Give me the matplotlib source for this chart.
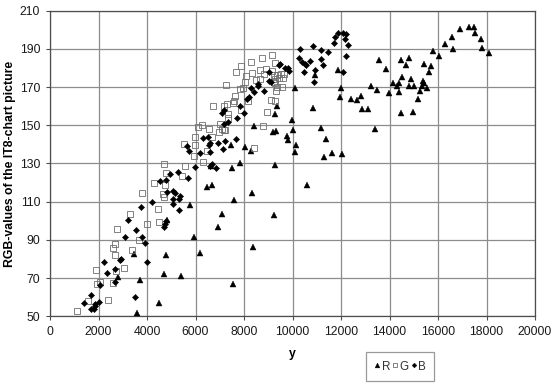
import matplotlib
matplotlib.use('Agg')
import matplotlib.pyplot as plt

plt.rcParams['font.family'] = ['Liberation Sans', 'DejaVu Sans']

# Values
r_x = [3589, 4483, 2819, 3726, 4716, 5418, 3465, 4771, 6201, 5940, 5761, 4840, 6468, 6701, 6930,
       7499, 7816, 6633, 9286, 7471, 8021, 8269, 8393, 9176, 9314, 9754, 9795, 10153, 10084, 9974,
       10029, 9259, 9341, 10084, 10840, 10909, 11170, 11376, 11294, 11638, 12023, 10593, 11885, 12009, 11940,
       13395, 12859, 13093, 12405, 12653, 12845, 13244, 13505, 13560, 13863, 13959, 14124, 14303, 14399, 14399,
       14509, 14481, 14784, 14701, 14481, 14949, 14866, 14798, 15018, 15183, 15251, 15320, 15375, 15416, 15554,
       15416, 15691, 15609, 15788, 16021, 16283, 16613, 16558, 16915, 17259, 17465, 17520, 17768, 17823, 18084,
       8344, 7601, 7093, 9224, 8371, 7560]
r_y = [51.7, 56.8, 70.4, 68.8, 72.1, 71.1, 82.4, 81.9, 83.3, 91.3, 108.2, 100.5, 117.8, 118.9, 96.7,
       127.6, 130, 128.6, 129.2, 139.8, 138.6, 136.7, 149.4, 146.6, 146.9, 144.5, 142.2, 139.8, 136.1, 152.9,
       147.6, 155.7, 160.2, 169.6, 159.1, 176.2, 148.5, 142.6, 133.5, 135.4, 135.1, 118.7, 178.8, 169.4, 164.9,
       148.2, 158.5, 158.5, 163.7, 163.2, 165.1, 170.7, 168.6, 184.1, 179.4, 167, 171.9, 170.7, 172, 167.5,
       175.4, 184.4, 185.3, 181.6, 156.2, 156.9, 174, 170.8, 170.8, 163.7, 168, 170.8, 173.4, 172, 169.4,
       182, 180.9, 178, 188.8, 186.3, 192.3, 189.7, 196.4, 200.5, 201.5, 201.5, 198.4, 195.4, 190.7, 187.6,
       114.7, 110.7, 103.6, 103.2, 86.5, 67.1]

g_x = [1114, 1554, 2406, 1939, 2049, 2599, 1884, 2709, 3039, 2668, 3383, 2613, 2668, 3671, 2750,
       3988, 4483, 3300, 4441, 3781, 4661, 4689, 4290, 4730, 5574, 5450, 6316, 6468, 5918, 8406,
       5533, 5959, 5959, 6674, 6110, 6248, 6564, 6976, 6990, 7086, 7224, 8778, 8942, 7334, 7320,
       7870, 6715, 7155, 7293, 7540, 7568, 7623, 8145, 9094, 9273, 7829, 7966, 7265, 8035, 8090,
       7678, 7884, 8283, 8324, 8736, 9163, 9286, 8668, 8915, 9135, 8833, 8489, 8640, 9245, 9355,
       9520, 9630, 9589, 9424, 9286, 9286, 9355, 9561, 9328, 9217, 7155, 4689, 4785]
g_y = [52.6, 57.8, 58.7, 66.7, 68.1, 67.4, 74.1, 73.7, 75.4, 81.9, 84.9, 85.9, 87.8, 89.7, 95.7,
       98.1, 99.2, 103.7, 106, 114.3, 114, 112.4, 119.7, 118.7, 128.6, 123.2, 130.7, 136.7, 134, 138.1,
       140.3, 139.8, 143.8, 143.8, 149, 150.1, 148.3, 146.4, 150.4, 148.2, 147.6, 149.7, 157, 153.6, 156,
       157.8, 160, 160, 161.2, 161.8, 162.8, 165.1, 162.5, 163, 162.6, 168.9, 169.3, 171.2, 172.9, 175.7,
       177.8, 180.9, 183, 177.3, 185.1, 186.9, 182.7, 179, 179.4, 178.3, 176.9, 173.6, 174, 176.2, 176.2,
       177.1, 177.1, 175, 174.5, 174, 171.9, 170.1, 170, 168, 172.7, 147.5, 129.6, 125]

b_x = [1416, 1678, 1691, 1801, 1870, 1870, 2035, 2063, 2338, 2228, 2681, 2681, 2874, 2943, 3080,
       3493, 3548, 3218, 3740, 3795, 3919, 4001, 4221, 4840, 4703, 4730, 4799, 5074, 5156, 5074,
       5074, 5321, 5376, 5308, 4524, 4955, 5258, 5698, 5986, 6206, 6591, 6605, 6564, 6921, 7224,
       7650, 7141, 6674, 6605, 6853, 5643, 5739, 6289, 6495, 7155, 7348, 7691, 8008, 7100, 7155,
       7829, 8118, 8200, 8406, 8296, 8805, 8558, 8585, 9011, 9108, 9011, 9451, 9493, 9671, 9795,
       9864, 10304, 10854, 11156, 11445, 10263, 10400, 10496, 10565, 10703, 11156, 11253, 10483, 10868, 10923,
       11693, 11761, 11858, 12064, 12215, 12160, 12270, 12215, 12078, 4785]
b_y = [57.1, 61.3, 54, 54, 56.3, 55.2, 57.3, 66.4, 72.5, 78.6, 74.9, 68, 79.6, 80.2, 91.5,
       59.9, 95.1, 100.5, 107.2, 91.5, 88.2, 78.6, 109.8, 114.8, 96.7, 98.5, 99.8, 115.4, 114.5, 111.2,
       108.9, 111.5, 112.9, 105.8, 121, 124.3, 125.7, 122.2, 128.1, 135.6, 136, 140.5, 139.6, 140.7, 141.5,
       142.8, 137.5, 129.5, 128.6, 127.8, 139.1, 136.5, 143.5, 144, 150.4, 151.8, 153.6, 156.4, 156.2, 157.9,
       160, 163.5, 164.9, 167.2, 169.3, 167.9, 170.5, 171.5, 173.3, 172.9, 178.1, 181.5, 182.3, 180.1, 180.1,
       178.3, 189.7, 191.7, 189.3, 188.4, 185.1, 183, 182.2, 181.8, 183.4, 184.6, 181.3, 177.8, 172.4, 178.8,
       193, 196.3, 198.4, 198.4, 198, 195.4, 191.9, 186.2, 178.1, 121.3]

x_ticks = list(range(0, 20001, 2000))
y_ticks = list(range(50, 211, 20))

fig = plt.figure(figsize=(5.57, 3.84), dpi=100, facecolor='white')
ax = fig.add_axes([50 / 557, 1 - 316.2 / 384, 485 / 557, 305.5 / 384])

ax.plot(r_x, r_y, linestyle='none', marker='^', ms=4.6, mfc='black', mec='black', mew=0.3,
        label='R', zorder=3, clip_on=False)
ax.plot(g_x, g_y, linestyle='none', marker='s', ms=3.7, mfc='none', mec='#6e6e6e', mew=0.6,
        label='G', zorder=4, clip_on=False)
ax.plot(b_x, b_y, linestyle='none', marker='D', ms=3.2, mfc='black', mec='black', mew=0.3,
        label='B', zorder=5, clip_on=False)

ax.set_xlim(0, 20000)
ax.set_ylim(50, 210)
ax.set_xticks(x_ticks)
ax.set_yticks(y_ticks)
ax.grid(True, color='#8c8c8c', linewidth=0.9)
ax.set_axisbelow(True)
for side in ax.spines.values():
    side.set_color('#4d4d4d')
    side.set_linewidth(0.9)
ax.tick_params(direction='out', length=3, width=0.8, color='#4d4d4d', labelsize=8.8,
               labelcolor='#1a1a1a', pad=4)

ax.set_xlabel('y', fontsize=8.8, fontweight='bold', labelpad=7)
ax.set_ylabel('RGB-values of the IT8-chart picture', fontsize=8.8, fontweight='bold')
ax.yaxis.set_label_coords(-33.5 / 485, 0.5)

leg = fig.legend(loc='center', bbox_to_anchor=(400 / 557, 1 - 366.5 / 384), ncol=3, frameon=True,
                 fancybox=False, edgecolor='#9a9a9a', framealpha=1, fontsize=8.4,
                 handletextpad=0.1, columnspacing=0.2, borderpad=0.7, borderaxespad=0,
                 handlelength=0.5, markerscale=0.75)
leg.get_frame().set_linewidth(0.9)
for text in leg.get_texts():
    text.set_color('#333333')

plt.savefig('out.png', dpi=100)
